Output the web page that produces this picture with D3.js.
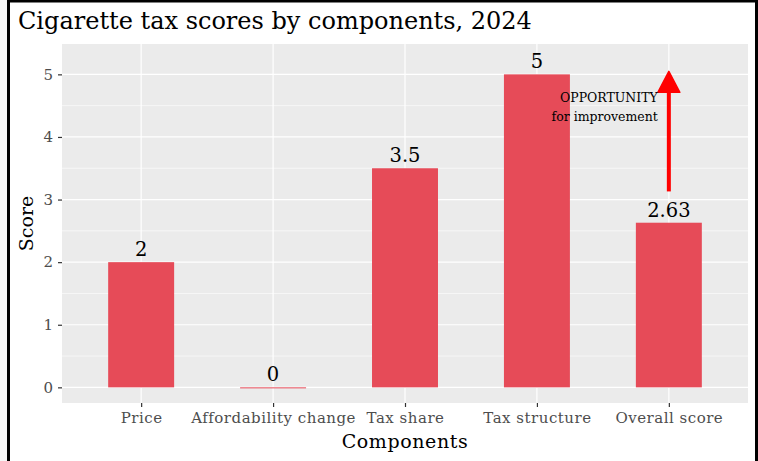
<!DOCTYPE html>
<html>
<head>
<meta charset="utf-8">
<script src="https://cdn.jsdelivr.net/npm/d3@7"></script>
<style>
  body { margin: 0; background: #f7f7f7; }
  svg { display: block; }
</style>
</head>
<body>
<div id="chart"></div>
<script>
const components = ["Price", "Affordability change", "Tax share", "Tax structure", "Overall score"];
const scores = [2, 0, 3.5, 5, 2.63];
const scoreLabels = ["2", "0", "3.5", "5", "2.63"];
const yTicks = [0, 1, 2, 3, 4, 5];
const arrowFrom = 3.13, arrowTo = 5;
const noteLines = ["OPPORTUNITY", "for improvement"];

const W = 758, H = 461;
const margin = { top: 44, right: 10, bottom: 58, left: 62 };
const width = W - margin.left - margin.right;
const height = H - margin.top - margin.bottom;
const font = "DejaVu Serif, serif";

const svg = d3.select("#chart").append("svg")
    .attr("width", W)
    .attr("height", H);

// outer frame
svg.append("rect")
    .attr("x", 8.5).attr("y", 1)
    .attr("width", 748).attr("height", 480)
    .attr("fill", "white")
    .attr("stroke", "black")
    .attr("stroke-width", 3);

const g = svg.append("g")
    .attr("transform", "translate(" + margin.left + "," + margin.top + ")");

// discrete x with ggplot-like 0.6 expansion
const x = d3.scalePoint()
    .domain(components)
    .range([0, width])
    .padding(0.6);
const step = x.step();

const y = d3.scaleLinear()
    .domain([-0.25, 5.485])
    .range([height, 0]);

// panel background
g.append("rect")
    .attr("width", width)
    .attr("height", height)
    .attr("fill", "#EBEBEB");

// minor grid
g.selectAll(".minor")
    .data([0.5, 1.5, 2.5, 3.5, 4.5])
    .enter().append("line")
    .attr("x1", 0).attr("x2", width)
    .attr("y1", d => y(d)).attr("y2", d => y(d))
    .attr("stroke", "white")
    .attr("stroke-width", 0.6);

// major grid
g.selectAll(".hmajor")
    .data(yTicks)
    .enter().append("line")
    .attr("x1", 0).attr("x2", width)
    .attr("y1", d => y(d)).attr("y2", d => y(d))
    .attr("stroke", "white")
    .attr("stroke-width", 1.2);

g.selectAll(".vmajor")
    .data(components)
    .enter().append("line")
    .attr("x1", d => x(d)).attr("x2", d => x(d))
    .attr("y1", 0).attr("y2", height)
    .attr("stroke", "white")
    .attr("stroke-width", 1.2);

// bars
const bw = step * 0.5;
g.selectAll(".bar")
    .data(scores)
    .enter().append("rect")
    .attr("x", (d, i) => x(components[i]) - bw / 2)
    .attr("y", d => y(d))
    .attr("width", bw)
    .attr("height", d => Math.max(y(0) - y(d), 1))
    .attr("fill", "#E64B58");

// value labels
g.selectAll(".val")
    .data(scores)
    .enter().append("text")
    .attr("x", (d, i) => x(components[i]))
    .attr("y", d => y(d) - 6)
    .attr("text-anchor", "middle")
    .style("font-family", font)
    .style("font-size", "19.5px")
    .attr("fill", "black")
    .text((d, i) => scoreLabels[i]);

// arrow
const ax = x("Overall score");
g.append("line")
    .attr("x1", ax).attr("x2", ax)
    .attr("y1", y(arrowFrom)).attr("y2", y(arrowTo) + 16)
    .attr("stroke", "red")
    .attr("stroke-width", 4);
g.append("path")
    .attr("d", "M" + (ax - 11) + "," + (y(arrowTo) + 18) +
        "L" + ax + "," + (y(arrowTo) - 3) +
        "L" + (ax + 11) + "," + (y(arrowTo) + 18) + "Z")
    .attr("fill", "red")
    .attr("stroke", "red")
    .attr("stroke-width", 1.5)
    .attr("stroke-linejoin", "round");

// note
g.selectAll(".note")
    .data(noteLines)
    .enter().append("text")
    .attr("x", ax - 11)
    .attr("y", (d, i) => y(4.56) + i * 19)
    .attr("text-anchor", "end")
    .style("font-family", font)
    .style("font-size", "12.5px")
    .attr("fill", "black")
    .text(d => d);

// axes
const xAxis = g.append("g")
    .attr("transform", "translate(0," + height + ")")
    .call(d3.axisBottom(x).tickSize(4).tickPadding(5));
const yAxis = g.append("g")
    .call(d3.axisLeft(y).tickValues(yTicks).tickFormat(d3.format("d")).tickSize(4).tickPadding(5));

[xAxis, yAxis].forEach(a => {
    a.select(".domain").remove();
    a.selectAll(".tick line").attr("stroke", "#333333").attr("stroke-width", 1.2);
    a.selectAll(".tick text")
        .attr("fill", "#4D4D4D")
        .style("font-family", font)
        .style("font-size", "15px");
});
xAxis.selectAll(".tick text").style("letter-spacing", "0.5px");

// axis titles
g.append("text")
    .attr("x", width / 2)
    .attr("y", height + 45)
    .attr("text-anchor", "middle")
    .style("font-family", font)
    .style("font-size", "19px")
    .style("letter-spacing", "0.6px")
    .text("Components");

g.append("text")
    .attr("transform", "rotate(-90)")
    .attr("x", -height / 2)
    .attr("y", -29)
    .attr("text-anchor", "middle")
    .style("font-family", font)
    .style("font-size", "19px")
    .text("Score");

// title
svg.append("text")
    .attr("x", 18)
    .attr("y", 29)
    .style("font-family", font)
    .style("font-size", "24px")
    .text("Cigarette tax scores by components, 2024");
</script>
</body>
</html>
